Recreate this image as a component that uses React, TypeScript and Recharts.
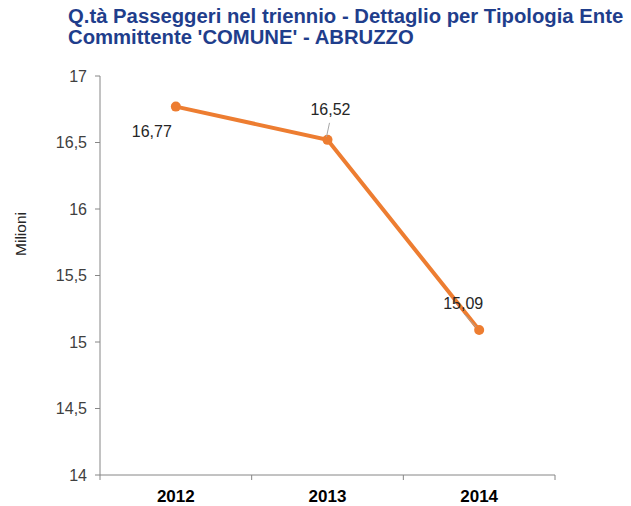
import React from 'react';
import { LineChart, Line, XAxis, YAxis, LabelList } from 'recharts';

const years = ['2012', '2013', '2014'];
const passengers = [16.77, 16.52, 15.09];
const yTicks = [14, 14.5, 15, 15.5, 16, 16.5, 17];

// label placement relative to the point (dx, dy), leader line from/to offsets
const labelPlacement = [
    { dx: -24, dy: 25, leader: null },
    { dx: 3, dy: -30, leader: [2, -17, -1, -3] },
    { dx: -16, dy: -27, leader: [-15, -16, -3, -3] },
];

const ORANGE = '#ED7D31';
const AXIS = '#868686';
const FONT = '"Liberation Sans", Arial, sans-serif';

const W = 631;
const H = 506;
const M = { top: 76, right: 76, left: 0, bottom: 0 };
const Y_AXIS_W = 100;
const X_AXIS_H = 31;
const PLOT_W = W - M.left - M.right - Y_AXIS_W;
const BAND = PLOT_W / years.length;

const chartData = years.map((y, i) => ({ year: y, value: passengers[i] }));

const fmt = (v: number) => String(v).replace('.', ',');

const YearTick = (props: any) => {
    const { x, y, payload, index } = props;
    const left = x - BAND / 2;
    return (
        <g>
            <line x1={left} y1={y} x2={left} y2={y + 5} stroke={AXIS} strokeWidth={1} />
            {index === years.length - 1 && (
                <line x1={left + BAND} y1={y} x2={left + BAND} y2={y + 5} stroke={AXIS} strokeWidth={1} />
            )}
            <text x={x} y={y + 27} textAnchor="middle" fontFamily={FONT} fontSize={17} fontWeight="bold" fill="#000">
                {payload.value}
            </text>
        </g>
    );
};

const ValueLabel = (props: any) => {
    const { x, y, value, index } = props;
    const p = labelPlacement[index];
    const l = p.leader;
    return (
        <g>
            {l && (
                <line x1={x + l[0]} y1={y + l[1]} x2={x + l[2]} y2={y + l[3]} stroke="#A6A6A6" strokeWidth={1} />
            )}
            <text x={x + p.dx} y={y + p.dy} textAnchor="middle" dominantBaseline="central" fontFamily={FONT} fontSize={16} fill="#262626">
                {fmt(value)}
            </text>
        </g>
    );
};

const AxisTitle = () => (
    <text x={20} y={234} transform="rotate(-90 20 234)" textAnchor="middle" dominantBaseline="central"
        fontFamily={FONT} fontSize={15.5} fill="#262626">
        Milioni
    </text>
);

export default function App() {
    return (
        <div style={{ position: 'absolute', left: 0, top: 0, width: W, height: H, background: '#fff' }}>
            <div style={{
                position: 'absolute', left: 68, top: 6, fontFamily: FONT, fontWeight: 'bold',
                fontSize: 20.3, lineHeight: '21px', color: '#1F3E8C', whiteSpace: 'nowrap'
            }}>
                <div>Q.tà Passeggeri nel triennio - Dettaglio per Tipologia Ente</div>
                <div>Committente 'COMUNE' - ABRUZZO</div>
            </div>
            <LineChart width={W} height={H} data={chartData} margin={M}>
                <XAxis
                    dataKey="year"
                    height={X_AXIS_H}
                    stroke={AXIS}
                    tickLine={false}
                    tickSize={0}
                    tickMargin={0}
                    padding={{ left: BAND / 2, right: BAND / 2 }}
                    tick={<YearTick />}
                    interval={0}
                />
                <YAxis
                    width={Y_AXIS_W}
                    domain={[14, 17]}
                    ticks={yTicks}
                    interval={0}
                    stroke={AXIS}
                    tickSize={5}
                    tickMargin={8}
                    tickFormatter={fmt}
                    tick={{ fill: '#404040', fontSize: 16, fontFamily: FONT }}
                    label={<AxisTitle />}
                />
                <Line
                    dataKey="value"
                    stroke={ORANGE}
                    strokeWidth={4}
                    dot={{ r: 5, fill: ORANGE, stroke: ORANGE, strokeWidth: 0 }}
                    isAnimationActive={false}
                >
                    <LabelList dataKey="value" content={<ValueLabel />} />
                </Line>
            </LineChart>
        </div>
    );
}
